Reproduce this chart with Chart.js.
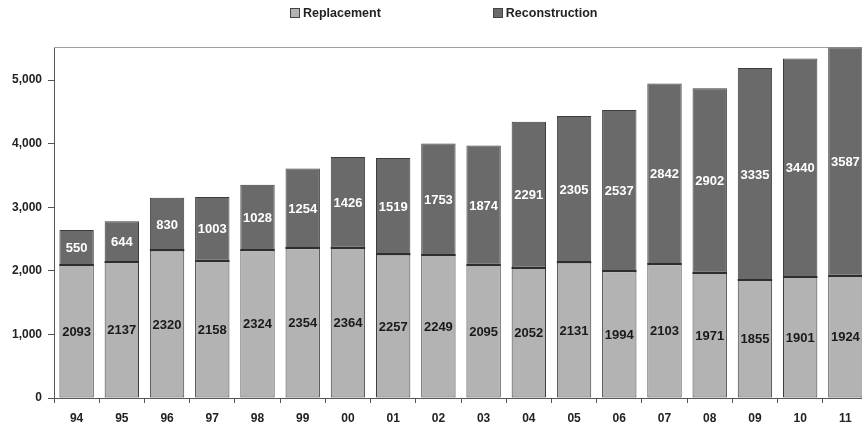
<!DOCTYPE html>
<html>
<head>
<meta charset="utf-8">
<script src="https://cdn.jsdelivr.net/npm/chart.js@4/dist/chart.umd.min.js"></script>
<style>
  html, body { margin: 0; padding: 0; background: #fff; overflow: hidden; }
  #wrap { position: relative; width: 862px; height: 431px; overflow: hidden; }
  #box { position: absolute; left: 0; top: 0; width: 868px; height: 431px; }
  #legend { position: absolute; left: 290px; top: 6px; display: flex; gap: 112px;
    font: bold 12.5px "Liberation Sans", Arial, sans-serif; color: #222; }
  #legend span.sw { display: inline-block; width: 8px; height: 8px; border: 1px solid #444;
    margin-right: 3px; vertical-align: -1px; }
</style>
</head>
<body>
<div id="wrap">
  <div id="box"><canvas id="bars"></canvas></div>
  <div id="legend"></div>
</div>
<script>
const years = ["94","95","96","97","98","99","00","01","02","03","04","05","06","07","08","09","10","11"];
const replacement = [2093,2137,2320,2158,2324,2354,2364,2257,2249,2095,2052,2131,1994,2103,1971,1855,1901,1924];
const reconstruction = [550,644,830,1003,1028,1254,1426,1519,1753,1874,2291,2305,2537,2842,2902,3335,3440,3587];
const yTicks = [0, 1000, 2000, 3000, 4000, 5000];

const lightGray = "#b3b3b3";
const darkGray = "#6a6a6a";

// dark seam between the two stacks + numbers in the middle of every segment
const segLabels = {
  id: "segLabels",
  afterDatasetsDraw(chart) {
    const c = chart.ctx;
    c.save();
    // seam
    c.strokeStyle = "#2e2e2e";
    c.lineWidth = 2;
    chart.getDatasetMeta(0).data.forEach(bar => {
      const p = bar.getProps(["x", "y", "width"], true);
      const y = Math.round(p.y);
      c.beginPath();
      c.moveTo(p.x - p.width / 2, y);
      c.lineTo(p.x + p.width / 2, y);
      c.stroke();
    });
    c.font = "bold 13px 'Liberation Sans', Arial, sans-serif";
    c.textAlign = "center";
    c.textBaseline = "middle";
    chart.data.datasets.forEach((ds, i) => {
      const meta = chart.getDatasetMeta(i);
      c.fillStyle = i === 0 ? "#1a1a1a" : "#ffffff";
      meta.data.forEach((bar, j) => {
        const p = bar.getProps(["x", "y", "base"], true);
        c.fillText(String(ds.data[j]), p.x, (p.y + p.base) / 2 + 1);
      });
    });
    c.restore();
  }
};

// thin frame line on top of the plot
const topLine = {
  id: "topLine",
  beforeDatasetsDraw(chart) {
    const a = chart.chartArea, c = chart.ctx;
    c.save();
    c.strokeStyle = "#a0a0a0";
    c.lineWidth = 1;
    c.beginPath();
    c.moveTo(a.left, a.top + 0.5);
    c.lineTo(a.right, a.top + 0.5);
    c.stroke();
    c.restore();
  }
};

const tickFont = { family: "'Liberation Sans', Arial, sans-serif", size: 12, weight: "bold" };

const chart = new Chart(document.getElementById("bars"), {
  type: "bar",
  data: {
    labels: years,
    datasets: [
      { label: "Replacement", data: replacement, backgroundColor: lightGray,
        borderColor: "#3c3c3c", borderWidth: 1, borderSkipped: false },
      { label: "Reconstruction", data: reconstruction, backgroundColor: darkGray,
        borderColor: "#3c3c3c", borderWidth: 1, borderSkipped: false }
    ]
  },
  options: {
    responsive: true,
    maintainAspectRatio: false,
    animation: false,
    layout: { padding: { top: 47, left: 0, right: 0, bottom: 0 } },
    plugins: { legend: { display: false }, tooltip: { enabled: false } },
    datasets: { bar: { categoryPercentage: 1, barPercentage: 0.76 } },
    scales: {
      x: {
        stacked: true,
        grid: { drawOnChartArea: false, tickLength: 5, color: "#555", offset: true },
        border: { color: "#555" },
        ticks: { font: tickFont, color: "#222", padding: 8, maxRotation: 0 },
        afterFit(s) { s.height = 33; }
      },
      y: {
        stacked: true,
        min: 0,
        max: 5520,
        afterBuildTicks(s) { s.ticks = yTicks.map(v => ({ value: v })); },
        grid: { drawOnChartArea: false, tickLength: 6, color: "#555" },
        border: { color: "#555" },
        ticks: { font: tickFont, color: "#222", padding: 6,
          callback: v => v.toLocaleString("en-US") },
        afterFit(s) { s.width = 54; }
      }
    }
  },
  plugins: [segLabels, topLine]
});

// legend built from the datasets
const lg = document.getElementById("legend");
chart.data.datasets.forEach(ds => {
  const it = document.createElement("div");
  const sw = document.createElement("span");
  sw.className = "sw";
  sw.style.background = ds.backgroundColor;
  it.appendChild(sw);
  it.appendChild(document.createTextNode(ds.label));
  lg.appendChild(it);
});
</script>
</body>
</html>
